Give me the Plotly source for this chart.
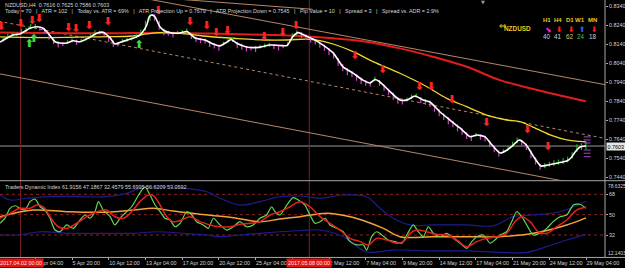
import plotly.graph_objects as go

PIP = 0.0001

# ---------------- price window (x = H4 bar number, prices in pips) ----------------
bar_close = [8147,8160,8174,8185,8190,8198,8211,8224,8229,8227,
             8216,8190,8161,8148,8144,8147,8155,8154,8155,8165,
             8177,8191,8198,8197,8178,8151,8145,8153,8160,8168,
             8178,8192,8228,8286,8283,8238,8213,8203,8198,8198,
             8200,8206,8188,8171,8166,8161,8149,8138,8132,8140,
             8154,8158,8143,8134,8124,8123,8122,8124,8129,8134,
             8133,8132,8131,8138,8174,8196,8192,8182,8171,8159,
             8146,8128,8110,8090,8056,8022,8006,7991,7974,7957,
             7944,7935,7952,7941,7919,7896,7875,7854,7845,7846,
             7857,7863,7851,7842,7835,7811,7787,7766,7747,7728,
             7708,7689,7668,7654,7660,7657,7651,7623,7597,7573,
             7574,7586,7605,7626,7625,7608,7570,7534,7502,7503,
             7505,7510,7515,7520,7528,7550,7585,7598,7603]
bar_high = [8160,8172,8195,8200,8199,8220,8226,8245,8246,8234,
            8224,8196,8170,8154,8150,8160,8170,8162,8166,8184,
            8192,8212,8210,8204,8186,8158,8150,8166,8172,8182,
            8195,8215,8262,8300,8296,8262,8222,8210,8204,8208,
            8214,8222,8196,8180,8172,8168,8156,8145,8138,8152,
            8170,8172,8150,8142,8130,8128,8130,8136,8142,8146,
            8140,8138,8138,8150,8196,8212,8202,8190,8178,8166,
            8154,8136,8118,8098,8066,8034,8012,7998,7982,7964,
            7950,7942,7968,7950,7926,7904,7884,7860,7852,7858,
            7874,7880,7860,7850,7842,7820,7796,7774,7754,7736,
            7716,7696,7676,7660,7672,7664,7658,7632,7604,7580,
            7586,7602,7626,7648,7636,7616,7580,7542,7510,7512,
            7520,7528,7532,7540,7546,7570,7612,7618,7625]
bar_low = [8140,8152,8168,8176,8180,8190,8203,8218,8220,8210,
           8196,8162,8140,8122,8130,8140,8148,8136,8148,8158,
           8170,8184,8190,8180,8150,8124,8128,8146,8152,8160,
           8170,8185,8210,8262,8262,8215,8186,8184,8176,8190,
           8194,8198,8166,8150,8144,8142,8124,8116,8104,8132,
           8146,8150,8118,8110,8100,8106,8098,8116,8120,8126,
           8114,8106,8118,8130,8160,8186,8172,8160,8146,8138,
           8120,8104,8082,8064,8026,7996,7976,7966,7946,7930,
           7920,7916,7944,7920,7894,7870,7846,7826,7822,7838,
           7850,7856,7828,7820,7808,7784,7760,7740,7718,7702,
           7680,7662,7640,7630,7652,7636,7628,7596,7570,7548,
           7566,7578,7598,7618,7604,7582,7540,7506,7478,7486,
           7494,7498,7504,7508,7516,7538,7572,7582,7586]
bar_x = list(range(0, 2 * len(bar_close), 2))

smooth_x = [0.6,3.7,6.3,9.3,13.7,16.7,19.4,21.5,24.6,27.6,30.3,32.4,35.5,39,42.8,45.5,48.6,50.7,53.7,58.6,
            61.6,62.9,64.6,65.6,66.7,68.2,70.3,72.5,75.6,79.1,82.1,85.6,90,93.5,96.5,99.5,101.3,103.8,108.1,113.1,
            118.3,122.6,125.7,128.3,130.5,134.4,137,140.1,145.8,150.1,154.5,158.8,161.9,164.1,166.2,170.6,174.9,178,181.5,185,
            188,192.4,196.7,201.1,205.5,208.5,212,215.1,218.6,221.6,224.3,226.9,230,233.2,236.3,239.4,243.7,247.6,249.4,251.6,
            253.4,256]
smooth_p = [8150,8172,8187,8193,8223,8231,8223,8198,8152,8144,8147,8157,8152,8170,8196,8202,8172,8140,8152,8170,
            8187,8205,8240,8282,8293,8282,8231,8208,8198,8198,8206,8172,8161,8140,8130,8150,8164,8144,8124,8122,
            8135,8132,8132,8180,8200,8180,8166,8145,8093,8020,7987,7950,7935,7953,7940,7889,7845,7845,7866,7845,
            7835,7782,7740,7698,7652,7661,7651,7608,7566,7582,7608,7635,7608,7547,7498,7503,7514,7524,7540,7577,
            7598,7603]

ma_yellow_x = [0.6,22.4,44.2,58.6,64.6,70.4,79.1,89.1,103.5,116.1,125.7,134.4,140.1,145.8,154.5,163.2,174.9,186.7,
               195.3,204,212.7,221.4,227.2,232.9,241.6,247.6,253.4,256]
ma_yellow_p = [8178,8174,8178,8182,8193,8200,8196,8182,8169,8161,8161,8166,8158,8140,8100,8047,7986,7915,
               7854,7810,7766,7740,7731,7703,7656,7635,7627,7625]
ma_red_x = [0.6,44.2,70.4,92.1,109.6,131.4,145.8,160.4,174.9,189.3,204,218.5,232.9,244.7,253.4,256]
ma_red_p = [8200,8196,8199,8195,8190,8182,8170,8152,8117,8073,8020,7950,7903,7869,7845,7838]

trend_upper_x, trend_upper_p = [44.2, 264.3], [8424, 7926]
trend_old_x, trend_old_p = [66.0, 136.6], [8387, 8323]
trend_mid_x, trend_mid_p = [0.0, 264.3], [8260, 7643]
trend_low_x, trend_low_p = [0.0, 264.3], [7984, 7377]

vline_x = [9.6, 135.4]
vline_text = ["2017.04.02 00:00", "2017.05.08 00:00"]

sell_x = [1.1,9.6,14.6,17.7,30.4,33.7,39.5,47.6,69.5,83.4,90.7,94.8,99.7,115.7,123.8,129.6,
          155.3,167.4,183.4,188.5,197.5,212.6,230.4,239.4]
sell_p = [8230,8245,8261,8269,8224,8216,8235,8252,8314,8256,8233,8196,8205,8177,8196,8235,
          8077,8000,7912,7912,7842,7721,7684,7598]
buy_x = [13.4, 15.4, 61.3]
buy_p = [8140, 8165, 8135]

proj_levels = [7651, 7635, 7619, 7582, 7565, 7547]
proj_x = [255.0, 258.0]
last_price = 7603

price_ticks = [7440, 7540, 7640, 7740, 7840, 7940, 8040, 8140, 8240, 8340]

time_tick_x = [16, 32, 48, 64, 80, 96, 112, 128, 144, 160, 176, 192, 208, 224, 240, 256]
time_tick_text = ["3 Apr 04:00", "5 Apr 20:00", "10 Apr 12:00", "13 Apr 04:00", "17 Apr 20:00",
                  "20 Apr 12:00", "25 Apr 04:00", "27 Apr 20:00", "2 May 12:00", "7 May 04:00",
                  "9 May 20:00", "14 May 12:00", "17 May 04:00", "21 May 20:00", "24 May 12:00",
                  "29 May 04:00"]

# ---------------- Traders Dynamic Index window ----------------
tdi_green_x = [0.6,2.8,5.0,7.2,9.3,11.5,13.7,15.9,18.1,20.2,22.4,24.6,26.8,29.7,32.6,35.5,37.7,39.8,42.0,43.5,
               45.6,48.6,50.7,52.9,55.1,58.0,60.2,62.4,63.8,66.0,68.2,70.4,72.5,74.7,76.9,79.1,82.0,84.2,86.3,89.2,
               91.4,93.6,96.5,99.4,102.3,105.2,108.1,111.0,113.9,116.8,119.0,120.5,122.6,125.6,128.4,130.6,133.5,135.7,137.9,140.1,
               142.3,144.4,147.4,150.2,153.2,156.1,159.0,160.4,162.6,164.8,167.0,169.8,172.8,175.7,177.9,180.7,182.9,185.1,187.3,189.5,
               192.4,195.3,198.2,201.1,204.0,206.2,208.4,211.3,214.2,216.3,218.5,221.4,223.6,225.8,228.0,230.2,233.0,235.9,238.9,241.7,
               244.7,247.6,250.5,253.4,256.0]
tdi_green_v = [42.4,47.0,55.6,57.9,55.6,54.1,61.5,63.8,57.0,54.1,46.8,36.4,34.9,40.9,37.9,45.3,49.7,46.8,52.6,61.5,
               54.1,48.2,40.9,46.8,51.2,57.0,64.5,71.8,74.7,67.4,58.5,52.6,46.8,45.3,39.3,42.4,52.6,49.7,43.8,40.9,
               37.9,46.8,40.9,36.4,39.3,43.8,39.3,40.9,46.8,49.7,57.0,52.6,49.7,58.5,65.0,63.0,58.5,49.7,42.4,43.8,
               46.8,40.9,37.9,34.9,26.1,23.2,23.2,18.7,30.5,34.9,32.0,27.6,26.1,24.7,32.0,40.9,34.9,30.5,39.3,33.5,
               30.5,33.5,29.1,24.7,20.2,26.1,30.5,32.0,24.7,27.6,32.0,34.9,43.8,52.6,48.2,40.9,32.0,33.5,37.9,43.8,
               48.2,49.7,58.5,59.2,55.7]
tdi_red_x = [0.6,5.0,9.3,13.7,16.6,19.5,22.4,26.0,29.7,34.0,38.4,42.8,47.1,50.7,54.4,58.0,61.6,65.3,67.4,70.4,
             73.3,76.1,79.8,83.4,87.8,92.1,96.5,100.9,105.2,109.6,113.9,118.3,122.6,127.0,131.4,135.7,140.1,144.4,148.8,153.2,
             157.5,161.1,164.8,169.1,173.5,176.4,179.3,182.2,186.6,190.9,195.3,199.7,204.0,208.4,212.7,217.1,221.4,225.1,228.0,231.6,
             235.2,238.9,243.2,247.6,251.9,256.0]
tdi_red_v = [46.8,51.2,55.6,55.6,58.5,57.0,48.2,39.3,37.9,42.4,48.2,52.6,54.1,48.2,46.8,52.6,61.5,67.4,66.8,58.5,
             48.2,43.8,45.3,48.2,43.8,40.9,39.3,39.3,41.5,42.4,43.8,49.7,52.6,57.0,61.5,57.0,48.2,42.4,36.4,29.1,
             26.1,23.2,29.1,27.6,24.7,26.1,33.5,36.4,34.9,32.6,32.0,27.6,21.7,26.1,29.1,30.5,33.5,43.8,48.2,43.8,
             34.9,33.5,39.3,45.3,54.1,56.6]
tdi_base_x = [0.6,15.1,29.7,44.2,58.7,67.4,76.1,87.8,102.3,113.9,122.6,131.4,143.0,153.2,160.4,167.7,174.9,189.5,
              204.0,218.5,233.0,247.6,256.0]
tdi_base_v = [48.2,54.1,52.6,52.1,54.1,55.6,53.2,50.3,47.3,43.8,46.2,48.2,51.2,48.2,43.8,37.9,30.5,30.5,
              30.5,30.5,33.5,40.9,47.2]
tdi_upper_x = [0.6,5.0,12.3,22.4,34.0,47.1,55.8,61.6,70.4,82.0,90.7,96.5,105.2,113.9,122.6,131.4,140.1,150.2,160.4,
               166.2,172.0,179.3,189.5,204.0,215.6,224.3,233.0,244.7,256.0]
tdi_upper_v = [67.4,63.0,64.5,65.9,65.9,65.9,68.9,73.3,74.7,73.3,70.3,64.5,58.5,61.5,65.9,66.5,64.5,67.4,65.9,
               55.6,46.8,40.9,40.9,40.9,40.2,48.2,49.7,52.6,61.9]
tdi_lower_x = [0.6,9.3,18.1,29.7,44.2,58.7,68.9,80.5,90.7,96.5,105.2,113.9,122.6,131.4,140.1,150.2,160.4,172.0,
               189.5,204.0,218.5,230.2,238.9,247.6,256.0]
tdi_lower_v = [32.0,32.0,34.9,33.5,33.5,33.5,34.9,33.5,32.0,30.5,32.0,33.5,34.9,36.0,36.4,30.5,17.2,18.7,
               17.9,17.9,16.7,16.7,21.7,27.6,32.5]
tdi_levels = [32, 50, 68]
tdi_min, tdi_max = 12.1403, 78.6325

# ---------------- layout constants ----------------
W, H = 625, 268
XDOM = 605 / W
MAIN_DOM = [1 - 180.5 / H, 1.0]
TDI_DOM = [1 - 257.45 / H, 1 - 182.3 / H]
X_RANGE = [0.623, 264.28]
Y_RANGE = [0.74216, 0.83716]
FONT = "Liberation Sans"
TXT = "#d4d4d4"

fig = go.Figure()

def p(vals):
    return [v * PIP for v in vals]

# bars coloured by direction
gx, gy, mx, my = [], [], [], []
for k, (h, l, c) in enumerate(zip(bar_high, bar_low, bar_close)):
    up = k == 0 or c >= bar_close[k - 1]
    xs, ys = (gx, gy) if up else (mx, my)
    xs += [bar_x[k], bar_x[k], None]
    ys += [l * PIP, h * PIP, None]

line_kw = dict(mode="lines", hoverinfo="skip", xaxis="x", yaxis="y")
for tx, tp, dash in [(trend_upper_x, trend_upper_p, "solid"), (trend_old_x, trend_old_p, "solid"),
                     (trend_mid_x, trend_mid_p, "dot"), (trend_low_x, trend_low_p, "solid")]:
    fig.add_trace(go.Scatter(x=tx, y=p(tp), line=dict(color="#b5876a", width=1, dash=dash), **line_kw))

fig.add_trace(go.Scatter(x=ma_red_x, y=p(ma_red_p), line=dict(color="#e51c1c", width=2, shape="spline"), **line_kw))
fig.add_trace(go.Scatter(x=ma_yellow_x, y=p(ma_yellow_p), line=dict(color="#f0d828", width=1.3, shape="spline"), **line_kw))
fig.add_trace(go.Scatter(x=gx, y=gy, line=dict(color="#1fae1f", width=1.2), **line_kw))
fig.add_trace(go.Scatter(x=mx, y=my, line=dict(color="#d642cc", width=1.2), **line_kw))
fig.add_trace(go.Scatter(x=smooth_x, y=p(smooth_p), line=dict(color="#ffffff", width=1.6, shape="spline", smoothing=0.6), **line_kw))

for lv in proj_levels:
    fig.add_trace(go.Scatter(x=proj_x, y=[lv * PIP] * 2, line=dict(color="#a848c8", width=1), **line_kw))

fig.add_trace(go.Scatter(x=sell_x, y=p(sell_p), mode="text", text=["<b>⬇</b>"] * len(sell_x),
                         textfont=dict(family="DejaVu Sans", size=11, color="#ff2222"),
                         hoverinfo="skip", xaxis="x", yaxis="y"))
fig.add_trace(go.Scatter(x=buy_x, y=p(buy_p), mode="text", text=["<b>⬆</b>"] * len(buy_x),
                         textfont=dict(family="DejaVu Sans", size=11, color="#44d444"),
                         hoverinfo="skip", xaxis="x", yaxis="y"))

# TDI
t_kw = dict(mode="lines", hoverinfo="skip", xaxis="x2", yaxis="y2")
fig.add_trace(go.Scatter(x=tdi_upper_x, y=tdi_upper_v, line=dict(color="#1c1c90", width=1.2, shape="spline"), **t_kw))
fig.add_trace(go.Scatter(x=tdi_lower_x, y=tdi_lower_v, line=dict(color="#1c1c90", width=1.2, shape="spline"), **t_kw))
fig.add_trace(go.Scatter(x=tdi_base_x, y=tdi_base_v, line=dict(color="#f2a23a", width=1.5, shape="spline"), **t_kw))
fig.add_trace(go.Scatter(x=tdi_green_x, y=tdi_green_v, line=dict(color="#62d850", width=1.2, shape="spline", smoothing=0.7), **t_kw))
fig.add_trace(go.Scatter(x=tdi_red_x, y=tdi_red_v, line=dict(color="#e52020", width=1.5, shape="spline"), **t_kw))

shapes = []
for v in tdi_levels:
    shapes.append(dict(type="line", xref="paper", yref="y2", x0=0, x1=XDOM, y0=v, y1=v,
                       line=dict(color="#8e2020", width=1, dash="dot"), layer="below"))
shapes.append(dict(type="line", xref="paper", yref="y", x0=0, x1=XDOM, y0=last_price * PIP, y1=last_price * PIP,
                   line=dict(color="#9a9a9a", width=1), layer="below"))
for vx in vline_x:
    shapes.append(dict(type="line", xref="x", yref="paper", x0=vx, x1=vx, y0=TDI_DOM[0], y1=1,
                       line=dict(color="#7e2020", width=1), layer="below"))
shapes.append(dict(type="line", xref="paper", yref="paper", x0=0, x1=1, y0=MAIN_DOM[0] - 0.0008, y1=MAIN_DOM[0] - 0.0008,
                   line=dict(color="#a8a8a8", width=1)))
shapes.append(dict(type="line", xref="paper", yref="paper", x0=0, x1=1, y0=TDI_DOM[0], y1=TDI_DOM[0],
                   line=dict(color="#a8a8a8", width=1)))
shapes.append(dict(type="line", xref="paper", yref="paper", x0=XDOM, x1=XDOM, y0=TDI_DOM[0], y1=1,
                   line=dict(color="#a8a8a8", width=1)))

small = dict(family=FONT, size=5.4, color=TXT)
ann = []
ann.append(dict(xref="paper", yref="paper", x=3 / W, y=1 - 4.7 / H, xanchor="left", yanchor="middle",
                text="NZDUSD,H4  0.7616 0.7625 0.7586 0.7603", showarrow=False, font=small))
ann.append(dict(xref="paper", yref="paper", x=3 / W, y=1 - 11 / H, xanchor="left", yanchor="middle",
                text="Today = 70   |   ATR = 102   |   Today vs. ATR = 69%   |   ATR Projection Up = 0.7679   |   "
                     "ATR Projection Down = 0.7545   |   Pip Value = 10   |   Spread = 3   |   Spread vs. ADR = 2.9%",
                showarrow=False, font=small))
ann.append(dict(xref="paper", yref="paper", x=3 / W, y=1 - 187 / H, xanchor="left", yanchor="middle",
                text="Traders Dynamic Index 61.9156 47.1867 32.4579 55.6995 56.6209 53.0592",
                showarrow=False, font=small))
ann.append(dict(xref="paper", yref="paper", x=606 / W, y=1 - 186 / H, xanchor="left", yanchor="middle",
                text=f"{tdi_max:.4f}", showarrow=False, font=dict(family=FONT, size=4.9, color=TXT)))
ann.append(dict(xref="paper", yref="paper", x=606 / W, y=1 - 253.7 / H, xanchor="left", yanchor="middle",
                text=f"{tdi_min:.4f}", showarrow=False, font=dict(family=FONT, size=4.9, color=TXT)))
ann.append(dict(xref="paper", yref="y", x=606 / W, y=last_price * PIP, xanchor="left", yanchor="middle",
                text=f"{last_price * PIP:.4f}", showarrow=False, bgcolor="#e6e6e6", borderpad=0.5,
                font=dict(family=FONT, size=5.4, color="#000000")))
for vx, vt in zip(vline_x, vline_text):
    ann.append(dict(xref="x2", yref="paper", x=vx, y=1 - 262.5 / H, xanchor="center", yanchor="middle",
                    text=vt, showarrow=False, bgcolor="#e41414", borderpad=1,
                    font=dict(family=FONT, size=5.4, color="#ffe6e6")))
ann.append(dict(xref="paper", yref="paper", x=483 / W, y=1 - 2.5 / H, xanchor="center", yanchor="middle",
                text="▼", showarrow=False, font=dict(family="DejaVu Sans", size=5, color="#9a9a9a")))
# multi-timeframe block
gold = "#e8c820"
ann.append(dict(xref="paper", yref="paper", x=509 / W, y=1 - 18.5 / H, text="⇔", showarrow=False,
                font=dict(family="DejaVu Sans", size=9, color=gold)))
ann.append(dict(xref="paper", yref="paper", x=532.5 / W, y=1 - 22.7 / H, text="<b>NZDUSD</b>", showarrow=False,
                font=dict(family=FONT, size=6.4, color=gold)))
tf_names = ["H1", "H4", "D1", "W1", "MN"]
tf_arrows = ["⬊", "⬇", "⬇", "⬆", "⬇"]
tf_arrow_colors = ["#e020e0", "#ff2020", "#ff2020", "#2a5cff", "#ff2020"]
tf_values = ["40", "41", "62", "24", "18"]
tf_value_colors = ["#d0d0d0", "#d0d0d0", "#d6c860", "#3cc83c", "#d0d0d0"]
tf_px = [552.5, 564, 575.5, 587, 598.5]
for name, ar, ac, val, vc, px in zip(tf_names, tf_arrows, tf_arrow_colors, tf_values, tf_value_colors, tf_px):
    ann.append(dict(xref="paper", yref="paper", x=px / W, y=1 - 15 / H, text=f"<b>{name}</b>", showarrow=False,
                    font=dict(family=FONT, size=6, color=gold)))
    ann.append(dict(xref="paper", yref="paper", x=px / W, y=1 - 22.7 / H, text=f"<b>{ar}</b>", showarrow=False,
                    font=dict(family="DejaVu Sans", size=7.5, color=ac)))
    ann.append(dict(xref="paper", yref="paper", x=px / W, y=1 - 30.7 / H, text=val, showarrow=False,
                    font=dict(family=FONT, size=6.3, color=vc)))

axis_common = dict(showgrid=False, zeroline=False, showline=False, automargin=False)
fig.update_layout(
    width=W, height=H, margin=dict(l=0, r=0, t=0, b=0),
    paper_bgcolor="#000000", plot_bgcolor="#000000", showlegend=False, hovermode=False,
    xaxis=dict(domain=[0, XDOM], range=X_RANGE, anchor="y", showticklabels=False, ticks="", **axis_common),
    xaxis2=dict(domain=[0, XDOM], range=X_RANGE, anchor="y2", matches="x",
                tickmode="array", tickvals=time_tick_x, ticktext=time_tick_text, tickangle=0,
                ticks="outside", ticklen=2, tickcolor="#a8a8a8", ticklabelposition="outside right",
                tickfont=dict(family=FONT, size=5.4, color=TXT), **axis_common),
    yaxis=dict(domain=MAIN_DOM, range=Y_RANGE, anchor="x", side="right",
               tickmode="array", tickvals=[v * PIP for v in price_ticks],
               ticktext=[f"{v * PIP:.4f}" for v in price_ticks],
               ticks="outside", ticklen=2, tickcolor="#a8a8a8",
               tickfont=dict(family=FONT, size=5.4, color=TXT), **axis_common),
    yaxis2=dict(domain=TDI_DOM, range=[tdi_min, tdi_max], anchor="x2", side="right",
                tickmode="array", tickvals=tdi_levels, ticktext=[str(v) for v in tdi_levels],
                ticks="outside", ticklen=2, tickcolor="#a8a8a8",
                tickfont=dict(family=FONT, size=5.4, color=TXT), **axis_common),
    shapes=shapes, annotations=ann,
)

fig.write_html("out.html", config={"displayModeBar": False})
